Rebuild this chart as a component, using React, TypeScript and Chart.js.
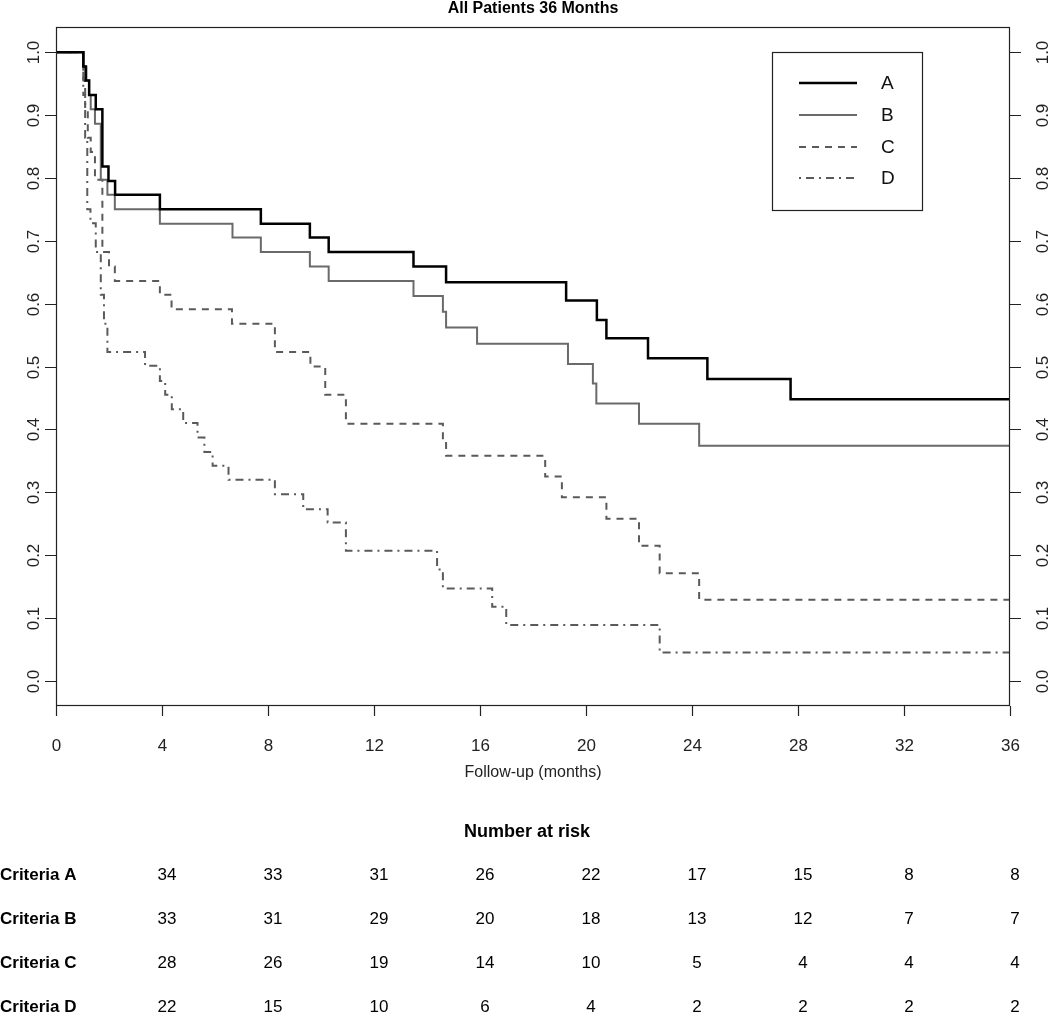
import React, { useEffect, useRef } from "react";
import { Chart, registerables } from "chart.js";

Chart.register(...registerables);

const chartTitle = "All Patients 36 Months";
const xAxisTitle = "Follow-up (months)";
const xTicks = [0, 4, 8, 12, 16, 20, 24, 28, 32, 36];
const yTicks = [0, 0.1, 0.2, 0.3, 0.4, 0.5, 0.6, 0.7, 0.8, 0.9, 1.0];
const yTickLabels = ["0.0", "0.1", "0.2", "0.3", "0.4", "0.5", "0.6", "0.7", "0.8", "0.9", "1.0"];
const seriesNames = ["A", "B", "C", "D"];

const timesA = [0, 1.03, 1.12, 1.25, 1.5, 1.75, 1.98, 2.23, 3.92, 7.73, 9.58, 10.29, 13.49, 14.72, 19.25, 20.41, 20.77, 22.34, 24.58, 27.72, 36];
const survA = [1, 0.977, 0.955, 0.932, 0.909, 0.818, 0.795, 0.773, 0.75, 0.727, 0.705, 0.682, 0.659, 0.634, 0.605, 0.574, 0.545, 0.513, 0.48, 0.448, 0.448];

const timesB = [0, 1.05, 1.15, 1.25, 1.31, 1.47, 1.69, 1.94, 2.22, 3.92, 6.66, 7.73, 9.58, 10.29, 13.49, 14.6, 14.72, 15.89, 19.32, 20.26, 20.39, 22.0, 24.27, 36];
const survB = [1, 0.977, 0.955, 0.932, 0.909, 0.886, 0.797, 0.773, 0.75, 0.727, 0.705, 0.682, 0.659, 0.636, 0.612, 0.587, 0.562, 0.536, 0.504, 0.473, 0.441, 0.409, 0.374, 0.374];

const timesC = [0, 1.03, 1.1, 1.2, 1.31, 1.47, 1.75, 2.0, 2.22, 3.92, 4.36, 6.64, 8.26, 9.6, 10.16, 10.94, 14.6, 14.72, 18.46, 19.09, 20.77, 22.0, 22.78, 24.27, 36];
const survC = [1, 0.955, 0.909, 0.864, 0.841, 0.797, 0.682, 0.659, 0.636, 0.614, 0.591, 0.568, 0.523, 0.5, 0.455, 0.409, 0.382, 0.358, 0.325, 0.292, 0.258, 0.215, 0.171, 0.129, 0.129];

const timesD = [0, 1.03, 1.1, 1.18, 1.3, 1.5, 1.69, 1.81, 1.94, 3.36, 3.92, 4.12, 4.37, 4.8, 5.34, 5.6, 5.91, 6.51, 8.26, 9.33, 10.25, 10.94, 14.38, 14.6, 16.46, 16.99, 22.78, 36];
const survD = [1, 0.932, 0.864, 0.75, 0.728, 0.682, 0.614, 0.568, 0.523, 0.501, 0.477, 0.455, 0.432, 0.41, 0.387, 0.364, 0.342, 0.32, 0.297, 0.273, 0.252, 0.207, 0.177, 0.147, 0.118, 0.089, 0.045, 0.045];

const riskHeader = "Number at risk";
const riskTimes = [4, 8, 12, 16, 20, 24, 28, 32, 36];
const riskRowLabels = ["Criteria A", "Criteria B", "Criteria C", "Criteria D"];
const riskA = [34, 33, 31, 26, 22, 17, 15, 8, 8];
const riskB = [33, 31, 29, 20, 18, 13, 12, 7, 7];
const riskC = [28, 26, 19, 14, 10, 5, 4, 4, 4];
const riskD = [22, 15, 10, 6, 4, 2, 2, 2, 2];

const W = 1050;
const H = 1017;
const FONT = '"Liberation Sans", Arial, Helvetica, sans-serif';

const styles = [
  { color: "#000000", width: 2.5, dash: [] as number[] },
  { color: "#6a6a6a", width: 2, dash: [] as number[] },
  { color: "#5a5a5a", width: 2, dash: [7, 6] },
  { color: "#5a5a5a", width: 2, dash: [2, 5, 8, 5] },
];

const toPoints = (t: number[], s: number[]) => t.map((x, i) => ({ x, y: s[i] }));

const decorPlugin = {
  id: "decor",
  afterDraw(chart: any) {
    const ctx: CanvasRenderingContext2D = chart.ctx;
    const { left, right, top, bottom } = chart.chartArea;
    const xs = chart.scales.x;
    const ys = chart.scales.y;
    ctx.save();
    ctx.strokeStyle = "#222";
    ctx.fillStyle = "#222";
    ctx.lineWidth = 1.2;
    ctx.setLineDash([]);
    // box
    ctx.strokeRect(left + 0.5, top + 0.5, right - left - 1, bottom - top - 1);
    // x ticks
    ctx.font = `17px ${FONT}`;
    ctx.textAlign = "center";
    ctx.textBaseline = "middle";
    xTicks.forEach((v) => {
      const px = Math.round(xs.getPixelForValue(v)) + 0.5;
      ctx.beginPath();
      ctx.moveTo(px, bottom);
      ctx.lineTo(px, bottom + 10);
      ctx.stroke();
      ctx.fillText(String(v), px, bottom + 40);
    });
    ctx.font = `16px ${FONT}`;
    ctx.fillText(xAxisTitle, (left + right) / 2, bottom + 67);
    // y ticks both sides
    ctx.font = `17px ${FONT}`;
    yTicks.forEach((v, i) => {
      const py = Math.round(ys.getPixelForValue(v)) + 0.5;
      ctx.beginPath();
      ctx.moveTo(left, py);
      ctx.lineTo(left - 11, py);
      ctx.moveTo(right, py);
      ctx.lineTo(right + 11, py);
      ctx.stroke();
      [left - 22, right + 33].forEach((cx) => {
        ctx.save();
        ctx.translate(cx, py);
        ctx.rotate(-Math.PI / 2);
        ctx.textAlign = "center";
        ctx.textBaseline = "middle";
        ctx.fillText(yTickLabels[i], 0, 0);
        ctx.restore();
      });
    });
    // title
    ctx.font = `bold 16px ${FONT}`;
    ctx.textAlign = "center";
    ctx.fillStyle = "#000";
    ctx.fillText(chartTitle, (left + right) / 2, 9);
    // legend
    const lx = 772, ly = 52, lw = 150, lh = 158;
    ctx.strokeStyle = "#222";
    ctx.lineWidth = 1.2;
    ctx.strokeRect(lx + 0.5, ly + 0.5, lw, lh);
    const rowY = [83, 115, 147, 178];
    seriesNames.forEach((name, i) => {
      const st = styles[i];
      ctx.save();
      ctx.strokeStyle = st.color;
      ctx.lineWidth = st.width;
      ctx.setLineDash(st.dash);
      ctx.beginPath();
      ctx.moveTo(799, rowY[i]);
      ctx.lineTo(857, rowY[i]);
      ctx.stroke();
      ctx.restore();
      ctx.font = `19px ${FONT}`;
      ctx.textAlign = "left";
      ctx.textBaseline = "middle";
      ctx.fillStyle = "#111";
      ctx.fillText(name, 881, rowY[i] + 1);
    });
    // risk table
    ctx.fillStyle = "#000";
    ctx.font = `bold 18px ${FONT}`;
    ctx.textAlign = "center";
    ctx.fillText(riskHeader, 527, 832);
    const rows = [riskA, riskB, riskC, riskD];
    const rowsY = [875, 919, 963, 1007];
    rows.forEach((vals, r) => {
      ctx.font = `bold 17px ${FONT}`;
      ctx.textAlign = "left";
      ctx.fillText(riskRowLabels[r], 0, rowsY[r]);
      ctx.font = `17px ${FONT}`;
      ctx.textAlign = "center";
      vals.forEach((v, i) => {
        ctx.fillText(String(v), xs.getPixelForValue(riskTimes[i]) + 5, rowsY[r]);
      });
    });
    ctx.restore();
  },
};

export default function App() {
  const ref = useRef<HTMLCanvasElement | null>(null);
  useEffect(() => {
    if (!ref.current) return;
    const data = [
      toPoints(timesA, survA),
      toPoints(timesB, survB),
      toPoints(timesC, survC),
      toPoints(timesD, survD),
    ];
    const chart = new Chart(ref.current, {
      type: "line",
      data: {
        datasets: seriesNames.map((name, i) => ({
          label: name,
          data: data[i],
          borderColor: styles[i].color,
          borderWidth: styles[i].width,
          borderDash: styles[i].dash,
          stepped: "before" as const,
          pointRadius: 0,
          fill: false,
          tension: 0,
        })),
      },
      options: {
        animation: false,
        responsive: false,
        maintainAspectRatio: false,
        devicePixelRatio: 1,
        layout: { padding: { left: 56, right: 40, top: 27, bottom: H - 706 } },
        plugins: { legend: { display: false }, title: { display: false }, tooltip: { enabled: false } },
        scales: {
          x: { type: "linear", min: 0, max: 36, display: false },
          y: { type: "linear", min: -0.04, max: 1.04, display: false },
        },
      },
      plugins: [decorPlugin],
    });
    return () => chart.destroy();
  }, []);
  return (
    <div style={{ position: "absolute", left: 0, top: 0, width: W, height: H, background: "#fff" }}>
      <canvas ref={ref} width={W} height={H} style={{ width: W, height: H, display: "block" }} />
    </div>
  );
}
